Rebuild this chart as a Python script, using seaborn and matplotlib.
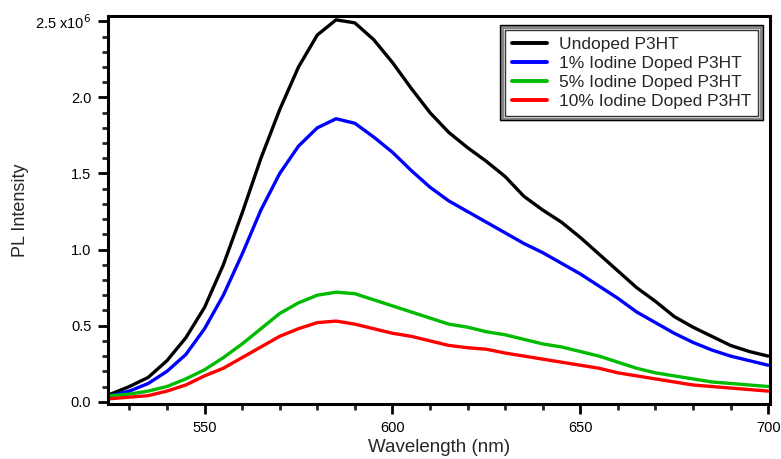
import numpy as np
import pandas as pd
import matplotlib
matplotlib.use("Agg")
import matplotlib.pyplot as plt
import seaborn as sns
from matplotlib.ticker import MultipleLocator, FuncFormatter
from matplotlib.patches import Rectangle

# wavelength grid (nm) and PL intensity (units of 1e6)
wavelength = list(range(525, 701, 5))

undoped = [0.05, 0.10, 0.16, 0.27, 0.42, 0.62, 0.90, 1.24, 1.60, 1.92, 2.20, 2.41,
           2.51, 2.49, 2.38, 2.23, 2.06, 1.90, 1.77, 1.67, 1.58, 1.48, 1.35, 1.26,
           1.18, 1.08, 0.97, 0.86, 0.75, 0.66, 0.56, 0.49, 0.43, 0.37, 0.33, 0.30]
iodine_1 = [0.04, 0.07, 0.12, 0.20, 0.31, 0.48, 0.70, 0.97, 1.26, 1.50, 1.68, 1.80,
            1.86, 1.83, 1.74, 1.64, 1.52, 1.41, 1.32, 1.25, 1.18, 1.11, 1.04, 0.98,
            0.91, 0.84, 0.76, 0.68, 0.59, 0.52, 0.45, 0.39, 0.34, 0.30, 0.27, 0.24]
iodine_5 = [0.04, 0.05, 0.07, 0.10, 0.15, 0.21, 0.29, 0.38, 0.48, 0.58, 0.65, 0.70,
            0.72, 0.71, 0.67, 0.63, 0.59, 0.55, 0.51, 0.49, 0.46, 0.44, 0.41, 0.38,
            0.36, 0.33, 0.30, 0.26, 0.22, 0.19, 0.17, 0.15, 0.13, 0.12, 0.11, 0.10]
iodine_10 = [0.02, 0.03, 0.04, 0.07, 0.11, 0.17, 0.22, 0.29, 0.36, 0.43, 0.48, 0.52,
             0.53, 0.51, 0.48, 0.45, 0.43, 0.40, 0.37, 0.355, 0.345, 0.32, 0.30, 0.28,
             0.26, 0.24, 0.22, 0.19, 0.17, 0.15, 0.13, 0.11, 0.10, 0.09, 0.08, 0.07]

labels = ["Undoped P3HT", "1% Iodine Doped P3HT", "5% Iodine Doped P3HT", "10% Iodine Doped P3HT"]
colors = ["#000000", "#0000ff", "#00bb00", "#ff0000"]

frames = []
for lab, vals in zip(labels, [undoped, iodine_1, iodine_5, iodine_10]):
    frames.append(pd.DataFrame({"wl": wavelength, "pl": np.array(vals) * 1e6, "sample": lab}))
df = pd.concat(frames, ignore_index=True)

sns.set_theme(style="ticks")
plt.rcParams['font.family'] = ['Liberation Sans', 'DejaVu Sans']

fig = plt.figure(figsize=(7.81, 4.59), dpi=100)
ax = fig.add_axes([0.1383, 0.1198, 0.8476, 0.8453])

sns.lineplot(data=df, x="wl", y="pl", hue="sample", hue_order=labels,
             palette=dict(zip(labels, colors)), linewidth=2.4, ax=ax)

ax.set_xlim(524.3, 700.5)
ax.set_ylim(-0.015e6, 2.535e6)

ax.xaxis.set_major_locator(MultipleLocator(50))
ax.xaxis.set_minor_locator(MultipleLocator(10))
ax.yaxis.set_major_locator(MultipleLocator(0.5e6))
ax.yaxis.set_minor_locator(MultipleLocator(0.1e6))

def yfmt(v, pos):
    if abs(v - 2.5e6) < 1:
        return "2.5 x10$^{6}$"
    return "%.1f" % (v / 1e6)
ax.yaxis.set_major_formatter(FuncFormatter(yfmt))

for s in ax.spines.values():
    s.set_linewidth(2.2)
    s.set_color("black")
ax.tick_params(which="major", direction="out", length=7, width=2, labelsize=10.5,
               colors="black", pad=5)
ax.tick_params(which="minor", direction="out", length=4.5, width=2)

ax.set_xlabel("Wavelength (nm)", fontsize=13.5, labelpad=3)
ax.set_ylabel("PL Intensity", fontsize=13)
ax.yaxis.set_label_coords(-0.12, 0.5)

leg = ax.legend(loc="upper right", bbox_to_anchor=(0.99, 0.978), fontsize=12.5,
                frameon=True, fancybox=False, handlelength=2.0, handletextpad=0.7,
                borderpad=0.4, labelspacing=0.22, borderaxespad=0.3)
leg.get_frame().set_edgecolor("black")
leg.get_frame().set_linewidth(1.0)
for line in leg.get_lines():
    line.set_linewidth(2.8)

# double border around the legend
fig.canvas.draw()
bb = leg.get_frame().get_window_extent().transformed(fig.transFigure.inverted())
pw, ph = 3.0 / 781, 3.0 / 459
fig.patches.append(Rectangle((bb.x0 - pw, bb.y0 - ph), bb.width + 2 * pw, bb.height + 2 * ph,
                             transform=fig.transFigure, fill=False, edgecolor="#888888",
                             linewidth=2.5, zorder=10))
pw2, ph2 = 4.6 / 781, 4.6 / 459
fig.patches.append(Rectangle((bb.x0 - pw2, bb.y0 - ph2), bb.width + 2 * pw2, bb.height + 2 * ph2,
                             transform=fig.transFigure, fill=False, edgecolor="black",
                             linewidth=1.0, zorder=11))

fig.savefig("out.png", dpi=100)
